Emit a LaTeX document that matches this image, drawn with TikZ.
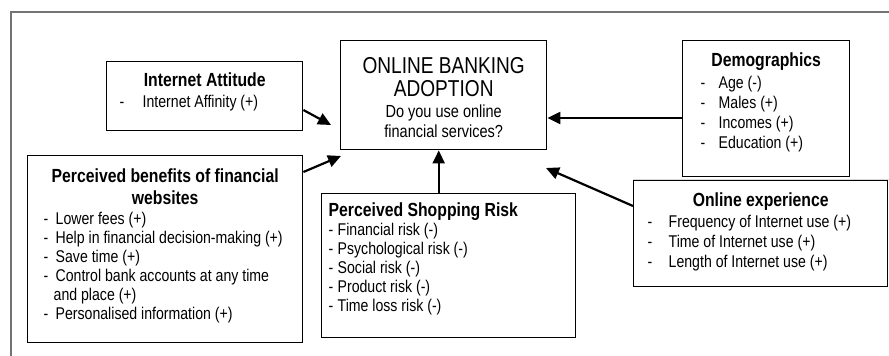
\documentclass[tikz,border=0pt]{standalone}
\usepackage{fontspec}
\setmainfont{Liberation Sans}[FakeStretch=0.83]
\usetikzlibrary{arrows.meta,positioning}
\tikzset{
	blk/.style={draw, line width=1.4pt, inner sep=0pt, anchor=north west},
	line/.style={draw, line width=2.2pt, -{Triangle[length=13pt,width=12pt]}},
	frm/.style={draw=black!55, line width=1.5pt}
}
\newcommand{\hdfont}{\fontsize{19}{22}\selectfont\bfseries}
\newcommand{\bdfont}[1][20]{\fontsize{17}{#1}\selectfont\mdseries}
% list item: indent, dash box width, text
\newcommand{\itm}[3]{\par\noindent\hspace*{#1pt}\makebox[#2pt][l]{-}#3}

\begin{document}
\begin{tikzpicture}[x=1pt,y=-1pt]
	\useasboundingbox (0,0) rectangle (889,356);
	% page frame
	\draw[frm] (11,356) -- (11,12) -- (889,12);
	\draw[black!15, line width=1pt] (633,179) -- (889,179);

	\node[blk] (main) at (340,40) {\begin{minipage}[t][109pt][t]{206pt}
		\centering\fontsize{23}{23}\selectfont\rule{0pt}{33pt}ONLINE BANKING\\ADOPTION\par
		\fontsize{17.5}{20}\selectfont\vspace{1pt}Do you use online\\financial services?
	\end{minipage}};

	\node[blk] (attitude) at (106,61) {\begin{minipage}[t][69pt][t]{196pt}
		\centering\hdfont\rule{0pt}{25pt}Internet Attitude\par
		\raggedright\bdfont\vspace{1pt}
		\itm{13}{23}{Internet Affinity (+)}
	\end{minipage}};

	\node[blk] (demo) at (682,40) {\begin{minipage}[t][136pt][t]{167pt}
		\centering\hdfont\rule{0pt}{26pt}Demographics\par
		\raggedright\bdfont\vspace{2pt}
		\itm{18}{18}{Age (-)}
		\itm{18}{18}{Males (+)}
		\itm{18}{18}{Incomes (+)}
		\itm{18}{18}{Education (+)}
	\end{minipage}};

	\node[blk] (benefit) at (27,155) {\begin{minipage}[t][187pt][t]{275pt}
		\centering\hdfont\rule{0pt}{27pt}Perceived benefits of financial\\websites\par
		\raggedright\bdfont[19]\vspace{1pt}
		\itm{16}{12}{Lower fees (+)}
		\itm{16}{12}{Help in financial decision-making (+)}
		\itm{16}{12}{Save time (+)}
		\itm{16}{12}{Control bank accounts at any time\\\hspace*{26pt}and place (+)}
		\itm{16}{12}{Personalised information (+)}
	\end{minipage}};

	\node[blk] (risk) at (321,193) {\begin{minipage}[t][144pt][t]{254pt}
		\raggedright\hdfont\rule{0pt}{23pt}\hspace*{7pt}Perceived Shopping Risk\par
		\bdfont[19]
		\itm{7}{9}{Financial risk (-)}
		\itm{7}{9}{Psychological risk (-)}
		\itm{7}{9}{Social risk (-)}
		\itm{7}{9}{Product risk (-)}
		\itm{7}{9}{Time loss risk (-)}
	\end{minipage}};

	\node[blk] (exper) at (633,180) {\begin{minipage}[t][106pt][t]{254pt}
		\centering\hdfont\rule{0pt}{26pt}Online experience\par
		\raggedright\bdfont\vspace{1pt}
		\itm{14}{21}{Frequency of Internet use (+)}
		\itm{14}{21}{Time of Internet use (+)}
		\itm{14}{21}{Length of Internet use (+)}
	\end{minipage}};

	% arrow ends short of the main box
	\coordinate (tipA) at (331,125);
	\coordinate (tipB) at (341,156);
	\coordinate (tipE) at (546,168);

	\draw[line] ([yshift=-49pt]attitude.north east) -- (tipA);
	\draw[line] ([yshift=-17pt]benefit.north east) -- (tipB);
	\draw[line] ([xshift=-10pt]risk.north) -- ([xshift=-10pt]risk.north |- main.south);
	\draw[line] ([yshift=-78pt]demo.north west) -- ([yshift=-78pt]demo.north west -| main.east);
	\draw[line] ([yshift=-26pt]exper.north west) -- (tipE);
\end{tikzpicture}
\end{document}
